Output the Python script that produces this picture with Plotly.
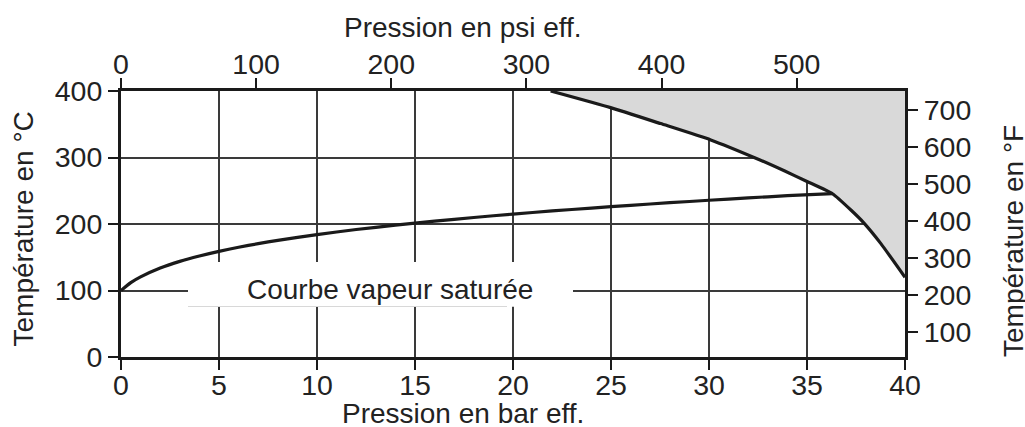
import plotly.graph_objects as go

# --- data ---
sat_bar = [0, 0.5, 1, 2, 3, 4, 5, 6, 7, 8, 10, 12, 14, 16, 18, 20, 22, 24, 26, 28, 30, 32, 34, 36.3]
sat_temp_c = [100, 111.8, 120.4, 133.7, 143.8, 151.9, 158.9, 165, 170.5, 175.4, 184.1, 191.7, 198.3,
              204.3, 209.8, 214.9, 219.6, 224, 228.1, 232, 235.7, 239.2, 242.6, 245.8]

lim_bar = [21.92, 24.98, 27.53, 30.09, 32.39, 33.84, 35.0, 36.3, 37.24, 37.92, 38.77, 40]
lim_temp_c = [400, 375, 351, 326.5, 299, 280, 264, 245.5, 221, 201, 170.5, 120]

bar_ticks = [0, 5, 10, 15, 20, 25, 30, 35, 40]
psi_ticks = [0, 100, 200, 300, 400, 500]
c_ticks = [0, 100, 200, 300, 400]
f_ticks = [100, 200, 300, 400, 500, 600, 700]

bar_range = [0, 40]
c_range = [0, 400]
PSI_PER_BAR = 14.5038
psi_range = [b * PSI_PER_BAR for b in bar_range]
f_range = [c * 9 / 5 + 32 for c in c_range]

label_text = "Courbe vapeur saturée"
x_title_bottom = "Pression en bar eff."
x_title_top = "Pression en psi eff."
y_title_left = "Température en °C"
y_title_right = "Température en °F"

# --- style ---
FONT = "Liberation Sans, Arial, sans-serif"
TXT = "#222222"
AX = "#1a1a1a"
GRID = "#3a3a3a"
FS_TICK = 28.5
FS_TITLE = 28
W, H = 1025, 427
ML, MR, MT, MB = 121, 120, 91, 70
PW, PH = W - ML - MR, H - MT - MB


def px_x(px):
    return (px - ML) / PW


def px_y(py):
    return (H - MB - py) / PH


def dx(px):
    return (px - ML) / PW * (bar_range[1] - bar_range[0]) + bar_range[0]


def dy(py):
    return (H - MB - py) / PH * (c_range[1] - c_range[0]) + c_range[0]


fig = go.Figure()

SPL = dict(shape="spline", smoothing=0.5)

# shaded region (limit curve closed to the top-right corner of the axes)
fig.add_trace(go.Scatter(
    x=lim_bar + [bar_range[1]], y=lim_temp_c + [c_range[1]],
    mode="lines", fill="toself", fillcolor="#d9d9d9",
    line=dict(width=0, **SPL), hoverinfo="skip", showlegend=False))

fig.add_trace(go.Scatter(
    x=lim_bar, y=lim_temp_c, mode="lines",
    line=dict(color=AX, width=3.2, **SPL), showlegend=False))

fig.add_trace(go.Scatter(
    x=sat_bar, y=sat_temp_c, mode="lines",
    line=dict(color=AX, width=3.2, **SPL), showlegend=False))

# invisible traces to carry the secondary axes
fig.add_trace(go.Scatter(x=psi_range, y=c_range, xaxis="x2", yaxis="y", mode="markers",
                         marker=dict(opacity=0), hoverinfo="skip", showlegend=False))
fig.add_trace(go.Scatter(x=bar_range, y=f_range, xaxis="x", yaxis="y2", mode="markers",
                         marker=dict(opacity=0), hoverinfo="skip", showlegend=False))

tickfont = dict(family=FONT, size=FS_TICK, color=TXT)
common = dict(showline=True, linecolor=AX, linewidth=3, ticks="outside", ticklen=10,
              tickwidth=1.5, tickcolor=AX, tickfont=tickfont, zeroline=False)

fig.update_layout(
    width=W, height=H,
    margin=dict(l=ML, r=MR, t=MT, b=MB, pad=0),
    paper_bgcolor="white", plot_bgcolor="white",
    font=dict(family=FONT, color=TXT),
    xaxis=dict(range=bar_range, tickvals=bar_ticks, showgrid=True, gridcolor=GRID,
               gridwidth=1.6, ticklabelstandoff=-9, **common),
    xaxis2=dict(range=psi_range, tickvals=psi_ticks, overlaying="x", side="top",
                showgrid=False, ticklabelstandoff=-7, **common),
    yaxis=dict(range=c_range, tickvals=c_ticks, showgrid=True, gridcolor=GRID,
               gridwidth=1.6, **common),
    yaxis2=dict(range=f_range, tickvals=f_ticks, overlaying="y", side="right",
                showgrid=False, ticklabelstandoff=0, **common),
)

# label box covering the grid
fig.add_shape(type="rect", xref="x", yref="y",
              x0=dx(188), x1=dx(573), y0=dy(306.7), y1=dy(262),
              fillcolor="white", line=dict(width=0), layer="above")
fig.add_shape(type="line", xref="x", yref="y",
              x0=dx(188), x1=dx(507), y0=dy(306.5), y1=dy(306.5),
              line=dict(color="#d8d8d8", width=1), layer="above")

fig.add_annotation(text=label_text, xref="paper", yref="paper",
                   x=px_x(389.5), y=px_y(289), xanchor="center", yanchor="middle",
                   showarrow=False, font=dict(family=FONT, size=FS_TITLE, color=TXT))

title_font = dict(family=FONT, size=FS_TITLE, color=TXT)
fig.add_annotation(text=x_title_bottom, xref="paper", yref="paper",
                   x=px_x(462.5), y=px_y(413), xanchor="center", yanchor="middle",
                   showarrow=False, font=title_font)
fig.add_annotation(text=x_title_top, xref="paper", yref="paper",
                   x=px_x(462.5), y=px_y(27), xanchor="center", yanchor="middle",
                   showarrow=False, font=title_font)
fig.add_annotation(text=y_title_left, xref="paper", yref="paper", textangle=-90,
                   x=px_x(22.5), y=px_y(229), xanchor="center", yanchor="middle",
                   showarrow=False, font=title_font)
fig.add_annotation(text=y_title_right, xref="paper", yref="paper", textangle=-90,
                   x=px_x(1013), y=px_y(241), xanchor="center", yanchor="middle",
                   showarrow=False, font=title_font)

fig.write_html("out.html", config={"displayModeBar": False},
               post_script="document.body.style.margin='0';")
